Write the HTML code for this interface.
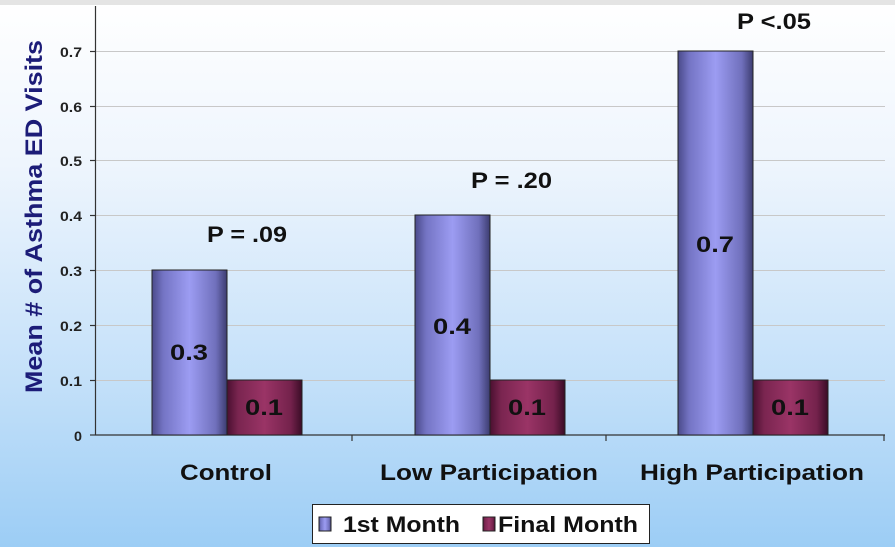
<!DOCTYPE html>
<html><head><style>
html,body{margin:0;padding:0;}
body{width:895px;height:547px;overflow:hidden;}
svg text{font-family:"Liberation Sans",Arial,sans-serif;font-weight:bold;}
</style></head><body>
<svg width="895" height="547" xmlns="http://www.w3.org/2000/svg">
<defs>
<linearGradient id="bg" x1="0" y1="0" x2="0" y2="1">
<stop offset="0" stop-color="#ffffff"/><stop offset="0.3" stop-color="#eef5fd"/><stop offset="0.7" stop-color="#c3e0f9"/><stop offset="1" stop-color="#9ccdf5"/>
</linearGradient>
<linearGradient id="b1" x1="0" y1="0" x2="1" y2="0">
<stop offset="0" stop-color="#4a4a8a"/><stop offset="0.15" stop-color="#7474c4"/><stop offset="0.5" stop-color="#9c9cf2"/><stop offset="0.85" stop-color="#7070bc"/><stop offset="1" stop-color="#3c3c70"/>
</linearGradient>
<linearGradient id="b2" x1="0" y1="0" x2="1" y2="0">
<stop offset="0" stop-color="#4a1030"/><stop offset="0.15" stop-color="#7a2550"/><stop offset="0.5" stop-color="#9a3466"/><stop offset="0.85" stop-color="#74224c"/><stop offset="1" stop-color="#3a0c26"/>
</linearGradient>
</defs>
<rect width="895" height="547" fill="url(#bg)"/>
<rect x="0" y="0" width="895" height="5" fill="#e4e4e4"/>
<g stroke="#c8c8c8" stroke-width="1">
<line x1="95" y1="51.5" x2="885" y2="51.5"/><line x1="95" y1="106.5" x2="885" y2="106.5"/>
<line x1="95" y1="160.5" x2="885" y2="160.5"/><line x1="95" y1="215.5" x2="885" y2="215.5"/>
<line x1="95" y1="270.5" x2="885" y2="270.5"/><line x1="95" y1="325.5" x2="885" y2="325.5"/>
<line x1="95" y1="380.5" x2="885" y2="380.5"/>
</g>
<g stroke="#333" stroke-width="1.2">
<line x1="95.5" y1="6" x2="95.5" y2="435"/>
<line x1="95" y1="435" x2="885" y2="435"/>
<line x1="90" y1="51.5" x2="95" y2="51.5"/><line x1="90" y1="106.5" x2="95" y2="106.5"/>
<line x1="90" y1="160.5" x2="95" y2="160.5"/><line x1="90" y1="215.5" x2="95" y2="215.5"/>
<line x1="90" y1="270.5" x2="95" y2="270.5"/><line x1="90" y1="325.5" x2="95" y2="325.5"/>
<line x1="90" y1="380.5" x2="95" y2="380.5"/><line x1="90" y1="435" x2="95" y2="435"/>
<line x1="352" y1="435" x2="352" y2="441"/><line x1="606" y1="435" x2="606" y2="441"/>
<line x1="884" y1="435" x2="884" y2="441"/>
</g>
<g font-size="14" fill="#222">
<text x="60" y="57" textLength="22" lengthAdjust="spacingAndGlyphs">0.7</text>
<text x="60" y="112" textLength="22" lengthAdjust="spacingAndGlyphs">0.6</text>
<text x="60" y="166" textLength="22" lengthAdjust="spacingAndGlyphs">0.5</text>
<text x="60" y="221" textLength="22" lengthAdjust="spacingAndGlyphs">0.4</text>
<text x="60" y="276" textLength="22" lengthAdjust="spacingAndGlyphs">0.3</text>
<text x="60" y="331" textLength="22" lengthAdjust="spacingAndGlyphs">0.2</text>
<text x="60" y="386" textLength="22" lengthAdjust="spacingAndGlyphs">0.1</text>
<text x="74" y="441" textLength="8" lengthAdjust="spacingAndGlyphs">0</text>
</g>
<text transform="translate(42,393) rotate(-90)" font-size="24" fill="#1c1c78" textLength="353" lengthAdjust="spacingAndGlyphs">Mean # of Asthma ED Visits</text>
<g stroke="#222" stroke-width="1">
<rect x="152" y="270" width="75" height="165" fill="url(#b1)"/>
<rect x="227" y="380" width="75" height="55" fill="url(#b2)"/>
<rect x="415" y="215" width="75" height="220" fill="url(#b1)"/>
<rect x="490" y="380" width="75" height="55" fill="url(#b2)"/>
<rect x="678" y="51" width="75" height="384" fill="url(#b1)"/>
<rect x="753" y="380" width="75" height="55" fill="url(#b2)"/>
</g>
<g font-size="22" fill="#111">
<text x="170" y="360" textLength="38" lengthAdjust="spacingAndGlyphs">0.3</text>
<text x="245" y="415" textLength="38" lengthAdjust="spacingAndGlyphs">0.1</text>
<text x="433" y="334" textLength="38" lengthAdjust="spacingAndGlyphs">0.4</text>
<text x="508" y="415" textLength="38" lengthAdjust="spacingAndGlyphs">0.1</text>
<text x="696" y="252" textLength="38" lengthAdjust="spacingAndGlyphs">0.7</text>
<text x="771" y="415" textLength="38" lengthAdjust="spacingAndGlyphs">0.1</text>
<text x="207" y="242" textLength="80" lengthAdjust="spacingAndGlyphs">P = .09</text>
<text x="471" y="188" textLength="81" lengthAdjust="spacingAndGlyphs">P = .20</text>
<text x="737" y="29" textLength="74" lengthAdjust="spacingAndGlyphs">P &lt;.05</text>
<text x="180" y="480" textLength="92" lengthAdjust="spacingAndGlyphs">Control</text>
<text x="380" y="480" textLength="218" lengthAdjust="spacingAndGlyphs">Low Participation</text>
<text x="640" y="480" textLength="224" lengthAdjust="spacingAndGlyphs">High Participation</text>
</g>
<rect x="312.5" y="504.5" width="337" height="39" fill="#fff" stroke="#222"/>
<rect x="319" y="517" width="12" height="14" fill="url(#b1)" stroke="#222"/>
<text x="343" y="532" font-size="22" fill="#111" textLength="117" lengthAdjust="spacingAndGlyphs">1st Month</text>
<rect x="483" y="517" width="12" height="14" fill="url(#b2)" stroke="#222"/>
<text x="498" y="532" font-size="22" fill="#111" textLength="140" lengthAdjust="spacingAndGlyphs">Final Month</text>
</svg>
</body></html>
